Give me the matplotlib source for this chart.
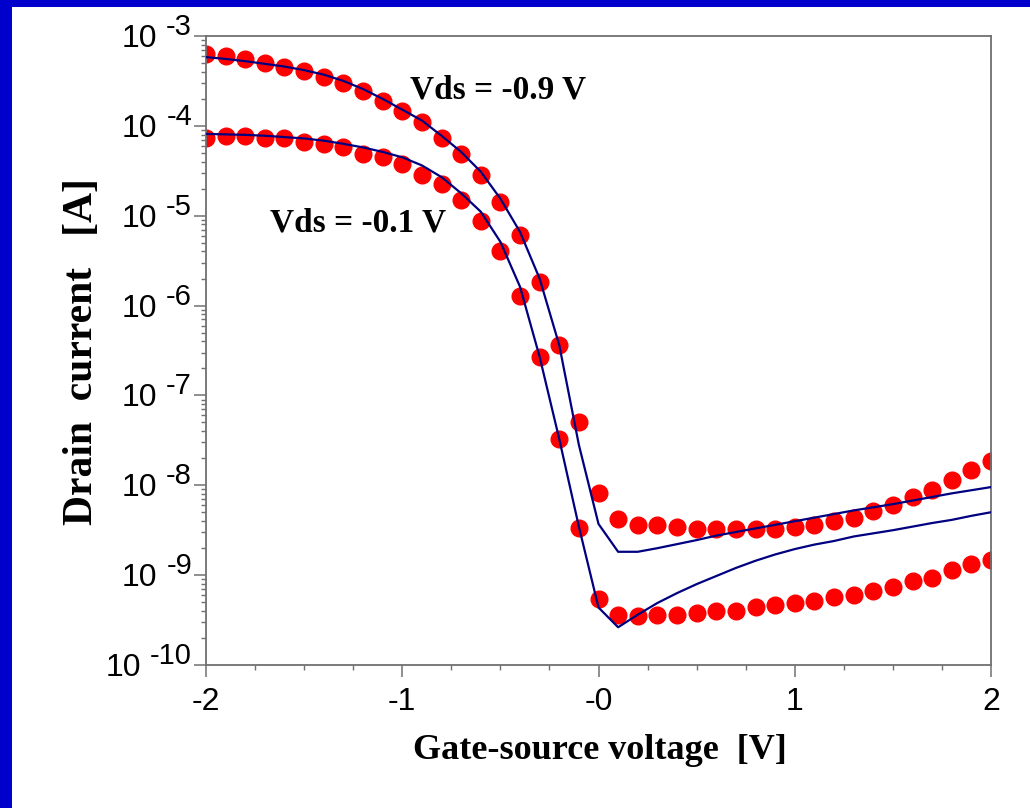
import numpy as np
import matplotlib
matplotlib.use("Agg")
import matplotlib.pyplot as plt
from matplotlib.patches import Rectangle
from matplotlib.ticker import FixedLocator, LogLocator, NullFormatter
import matplotlib.transforms as mtransforms

# ---------------- data (log10 of drain current in A) ----------------
vgs = [-2.0, -1.9, -1.8, -1.7, -1.6, -1.5, -1.4, -1.3, -1.2, -1.1,
       -1.0, -0.9, -0.8, -0.7, -0.6, -0.5, -0.4, -0.3, -0.2, -0.1,
       0.0, 0.1, 0.2, 0.3, 0.4, 0.5, 0.6, 0.7, 0.8, 0.9,
       1.0, 1.1, 1.2, 1.3, 1.4, 1.5, 1.6, 1.7, 1.8, 1.9, 2.0]

meas_09_log = [-3.20, -3.22, -3.26, -3.30, -3.35, -3.39, -3.46, -3.52, -3.61, -3.72,
               -3.83, -3.96, -4.13, -4.31, -4.55, -4.85, -5.22, -5.74, -6.44, -7.30,
               -8.09, -8.375, -8.44, -8.44, -8.46, -8.49, -8.49, -8.49, -8.49, -8.49,
               -8.46, -8.44, -8.40, -8.36, -8.29, -8.22, -8.135, -8.05, -7.94, -7.83, -7.73]

meas_01_log = [-4.13, -4.11, -4.11, -4.13, -4.13, -4.18, -4.20, -4.24, -4.31, -4.35,
               -4.43, -4.55, -4.65, -4.83, -5.06, -5.39, -5.89, -6.57, -7.485, -8.48,
               -9.265, -9.44, -9.46, -9.44, -9.44, -9.42, -9.40, -9.40, -9.355, -9.33,
               -9.31, -9.29, -9.24, -9.22, -9.18, -9.135, -9.07, -9.03, -8.94, -8.88, -8.83]

model_09_log = [-3.235, -3.255, -3.28, -3.31, -3.34, -3.38, -3.43, -3.50, -3.59, -3.70,
                -3.82, -3.94, -4.11, -4.29, -4.51, -4.81, -5.18, -5.70, -6.44, -7.55,
                -8.43, -8.74, -8.74, -8.70, -8.655, -8.61, -8.56, -8.52, -8.48, -8.44,
                -8.40, -8.36, -8.32, -8.28, -8.245, -8.21, -8.17, -8.13, -8.09, -8.055, -8.02]

model_01_log = [-4.09, -4.095, -4.10, -4.11, -4.125, -4.14, -4.165, -4.20, -4.24, -4.29,
                -4.35, -4.44, -4.57, -4.75, -4.955, -5.29, -5.79, -6.57, -7.485, -8.46,
                -9.36, -9.58, -9.44, -9.31, -9.20, -9.10, -9.01, -8.92, -8.84, -8.77,
                -8.71, -8.66, -8.62, -8.57, -8.535, -8.50, -8.46, -8.42, -8.385, -8.34, -8.30]

x_ticks = [-2, -1, 0, 1, 2]
x_tick_labels = ["-2", "-1", "-0", "1", "2"]
y_exponents = [-3, -4, -5, -6, -7, -8, -9, -10]

label_09 = "Vds = -0.9 V"
label_01 = "Vds = -0.1 V"
x_label = "Gate-source voltage  [V]"
y_label = "Drain  current   [A]"

# ---------------- figure ----------------
W, H = 1030, 808
fig = plt.figure(figsize=(W / 100, H / 100), dpi=100)
fig.patch.set_facecolor("#0000CC")
fig.patches.append(Rectangle((12 / W, 0), 1 - 12 / W, 1 - 7 / H, transform=fig.transFigure,
                             facecolor="white", edgecolor="none", zorder=-10))

ax_l, ax_r, ax_t, ax_b = 206, 991, 36, 665
ax = fig.add_axes([ax_l / W, 1 - ax_b / H, (ax_r - ax_l) / W, (ax_b - ax_t) / H])
ax.set_zorder(1)
ax.set_facecolor("white")

red = "#FF0000"
navy = "#000080"

I09 = [10.0 ** v for v in meas_09_log]
I01 = [10.0 ** v for v in meas_01_log]
M09 = [10.0 ** v for v in model_09_log]
M01 = [10.0 ** v for v in model_01_log]

ax.plot(vgs, I09, linestyle="none", marker="o", markersize=12, color=red, zorder=2)
ax.plot(vgs, I01, linestyle="none", marker="o", markersize=12, color=red, zorder=2)
ax.plot(vgs, M09, color=navy, linewidth=1.6, zorder=3)
ax.plot(vgs, M01, color=navy, linewidth=1.6, zorder=3)

ax.set_yscale("log")
ax.set_xlim(-2, 2)
ax.set_ylim(1e-10, 1e-3)

spine_col = "#707070"
for s in ax.spines.values():
    s.set_color(spine_col)
    s.set_linewidth(1.3)

ax.xaxis.set_major_locator(FixedLocator(x_ticks))
ax.xaxis.set_minor_locator(FixedLocator([-1.75, -1.5, -1.25, -0.75, -0.5, -0.25,
                                         0.25, 0.5, 0.75, 1.25, 1.5, 1.75]))
ax.set_xticklabels(x_tick_labels)
ax.yaxis.set_major_locator(FixedLocator([10.0 ** e for e in y_exponents]))
ax.yaxis.set_minor_locator(LogLocator(base=10, subs=np.arange(2, 10), numticks=20))
ax.yaxis.set_major_formatter(NullFormatter())
ax.yaxis.set_minor_formatter(NullFormatter())

ax.tick_params(which="major", direction="out", length=8.5, width=1.1, color=spine_col)
ax.tick_params(which="minor", direction="out", length=3.6, width=1.0, color=spine_col)
ax.tick_params(axis="x", which="major", pad=7)
for lab in ax.get_xticklabels():
    lab.set_fontfamily("Liberation Sans")
    lab.set_fontsize(23)

# y tick labels "10" + exponent
trans = mtransforms.blended_transform_factory(ax.transAxes, ax.transData)
exp_texts = []
for e in y_exponents:
    t = ax.text(0, 10.0 ** e, "%d" % e,
                transform=mtransforms.offset_copy(trans, fig=fig, x=-14, y=1, units="dots"),
                ha="right", va="baseline", fontsize=21, family="Liberation Sans", clip_on=False)
    exp_texts.append((e, t))
fig.canvas.draw()
renderer = fig.canvas.get_renderer()
for e, t in exp_texts:
    bb = t.get_window_extent(renderer)
    x0_axes_px = ax.get_window_extent(renderer).x0
    dx = bb.x0 - 9 - x0_axes_px
    ax.text(0, 10.0 ** e, "10",
            transform=mtransforms.offset_copy(trans, fig=fig, x=dx, y=-11, units="dots"),
            ha="right", va="baseline", fontsize=23, family="Liberation Sans", clip_on=False)

serif = "Liberation Serif"
ax.text(-0.512, 10 ** -3.693, label_09, ha="center", va="baseline",
        fontsize=24, fontweight="bold", family=serif)
ax.text(-1.225, 10 ** -5.178, label_01, ha="center", va="baseline",
        fontsize=24, fontweight="bold", family=serif)

fig.text(600 / W, 1 - 759 / H, x_label, ha="center", va="baseline",
         fontsize=26, fontweight="bold", family=serif)
fig.text(101 / W, 1 - 352 / H, y_label, ha="right", va="center", rotation=90,
         fontsize=30, fontweight="bold", family=serif)

fig.savefig("out.png", dpi=100, facecolor=fig.get_facecolor())
